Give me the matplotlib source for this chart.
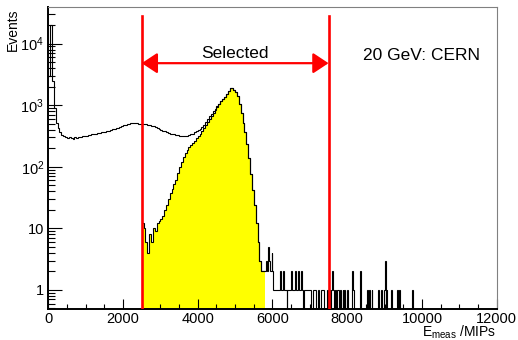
import numpy as np
import matplotlib
matplotlib.use("Agg")
import matplotlib.pyplot as plt
from matplotlib.ticker import MultipleLocator, LogLocator, FuncFormatter, NullFormatter

plt.rcParams['font.family'] = ['Liberation Sans', 'DejaVu Sans']
plt.rcParams['mathtext.fontset'] = 'custom'
plt.rcParams['mathtext.rm'] = 'Liberation Sans'
plt.rcParams['mathtext.it'] = 'Liberation Sans:italic'

# main spectrum, 50 MIP bins from 0 to 5800
main_width = 50
main_all = [3000, 20000, 2500, 900, 520, 420, 360, 330, 310, 300,
            295, 305, 290, 285, 300, 290, 305, 300, 315, 310,
            320, 330, 325, 335, 340, 345, 350, 355, 360, 360,
            370, 380, 385, 400, 405, 415, 425, 430, 445, 455,
            470, 480, 490, 500, 505, 515, 510, 505, 500, 500,
            495, 490, 485, 475, 470, 460, 450, 435, 420, 410,
            400, 385, 375, 365, 355, 345, 340, 335, 330, 325,
            320, 318, 315, 315, 320, 325, 335, 345, 360, 375,
            390, 410, 440, 480, 530, 590, 660, 720, 800, 880,
            960, 1050, 1150, 1250, 1380, 1520, 1700, 1900, 1880, 1750,
            1650, 1400, 1050, 750, 520, 360, 230, 140, 75, 42,
            24, 12, 6, 3, 2, 2]
# selected events, same bins starting at 2500
main_sel = [12, 10, 6, 4, 8, 6, 10, 9, 12, 13,
            14, 16, 20, 24, 30, 37, 44, 52, 62, 80,
            100, 120, 145, 170, 190, 210, 225, 240, 265, 290,
            315, 340, 380, 420, 470, 530, 600, 670, 750, 840,
            930, 1030, 1150, 1250, 1380, 1520, 1700, 1900, 1880, 1750,
            1650, 1400, 1050, 750, 520, 360, 230, 140, 75, 42,
            24, 12, 6, 3, 2, 2]
sel_start = 2500

# sparse tail, 25 MIP bins from 5800
tail_width = 25
tail_x = [5800, 5825, 5850, 5875, 5900, 5925, 5950, 5975, 6000, 6025,
          6050, 6075, 6100, 6125, 6150, 6175, 6200, 6225, 6250, 6275,
          6300, 6325, 6350, 6400, 6425, 6450, 6475, 6500, 6525, 6550,
          6575, 6600, 6625, 6650, 6675, 6700, 6725, 6750, 6775, 6800,
          6850, 6875, 6900, 6925, 6950, 6975, 7000, 7075, 7100, 7125,
          7150, 7225, 7300, 7325, 7350, 7450, 7525, 7575, 7600, 7625,
          7675, 7725, 7750, 7800, 7875, 7925, 8000, 8125, 8150, 8350,
          8525, 8575, 8650, 8825, 8900, 8975, 9000, 9050, 9175, 9325,
          9375, 9725]
tail_n = [2, 3, 2, 5, 3, 2, 2, 4, 2, 1,
          1, 1, 1, 1, 1, 1, 2, 1, 1, 2,
          1, 1, 1, 1, 1, 1, 1, 2, 1, 1,
          1, 2, 1, 1, 2, 1, 1, 1, 2, 1,
          1, 1, 1, 1, 1, 1, 1, 1, 1, 1,
          1, 1, 1, 1, 1, 1, 1, 1, 2, 1,
          1, 1, 1, 1, 1, 1, 1, 2, 1, 2,
          1, 1, 1, 1, 1, 1, 3, 1, 1, 1,
          1, 1]
tail_end = 10000

cut_lo, cut_hi = 2500, 7500
cut_top = 28000
arrow_y = 4800

# build bin edges / contents
main_edges = np.arange(0, main_width * len(main_all) + 1, main_width)
tail_edges = np.arange(main_edges[-1], tail_end + 1, tail_width)
tail_vals = np.zeros(len(tail_edges) - 1)
for x, n in zip(tail_x, tail_n):
    tail_vals[int((x - tail_edges[0]) // tail_width)] = n
edges = np.concatenate([main_edges, tail_edges[1:]])
vals = np.concatenate([np.array(main_all, float), tail_vals])
vals = np.where(vals > 0, vals, 1e-3)

sel_edges = np.arange(sel_start, sel_start + main_width * len(main_sel) + 1, main_width)

fig = plt.figure(figsize=(5.18, 3.40), dpi=100)
ax = fig.add_axes([0.0932, 0.0912, 0.8657, 0.8878])

ax.stairs(main_sel, sel_edges, fill=True, color='#ffff00', baseline=1e-3, zorder=1)
ax.stairs(main_sel, sel_edges, color='black', lw=0.8, baseline=None, zorder=2)
ax.stairs(vals, edges, color='black', lw=0.8, baseline=None, zorder=3)

for c in (cut_lo, cut_hi):
    ax.plot([c, c], [1e-3, cut_top], color='red', lw=1.9, zorder=4)
ax.annotate('', xy=(cut_lo, arrow_y), xytext=(cut_hi, arrow_y),
            arrowprops=dict(arrowstyle='<|-|>,head_length=0.5,head_width=0.33',
                            color='red', lw=1.6, mutation_scale=19,
                            shrinkA=0, shrinkB=0), zorder=4)

ax.text((cut_lo + cut_hi) / 2, 5900, 'Selected', ha='center', va='baseline', fontsize=12.5)
ax.text(10000, 5400, '20 GeV: CERN', ha='center', va='baseline', fontsize=12.5)

ax.set_yscale('log')
ax.set_xlim(0, 12000)
ax.set_ylim(0.49, 3.9e4)

ax.xaxis.set_major_locator(MultipleLocator(2000))
ax.xaxis.set_minor_locator(MultipleLocator(500))
ax.yaxis.set_major_locator(LogLocator(base=10, numticks=20))
ax.yaxis.set_minor_locator(LogLocator(base=10, subs=np.arange(2, 10), numticks=20))
ax.yaxis.set_minor_formatter(NullFormatter())


def ylab(v, pos):
    if v < 5:
        return '1'
    if v < 50:
        return '10'
    return r'$\mathregular{10^{%d}}$' % round(np.log10(v))


ax.yaxis.set_major_formatter(FuncFormatter(ylab))

ax.tick_params(axis='both', which='both', direction='in', width=0.8, labelsize=10.5)
ax.tick_params(axis='y', which='major', length=10, pad=3)
ax.tick_params(axis='y', which='minor', length=5)
ax.tick_params(axis='x', which='major', length=7, pad=2)
ax.tick_params(axis='x', which='minor', length=3.8)

for s in ('left', 'bottom'):
    ax.spines[s].set_linewidth(1.4)
    ax.spines[s].set_color('black')
for s in ('top', 'right'):
    ax.spines[s].set_linewidth(0.8)
    ax.spines[s].set_color('#808080')

fig.text(0.025, 0.975, 'Events', rotation=90, ha='center', va='top', fontsize=10)
fig.text(0.958, 0.009, r'$\mathregular{E_{meas}}$ /MIPs', ha='right', va='baseline', fontsize=10)

fig.savefig('out.png', dpi=100)
